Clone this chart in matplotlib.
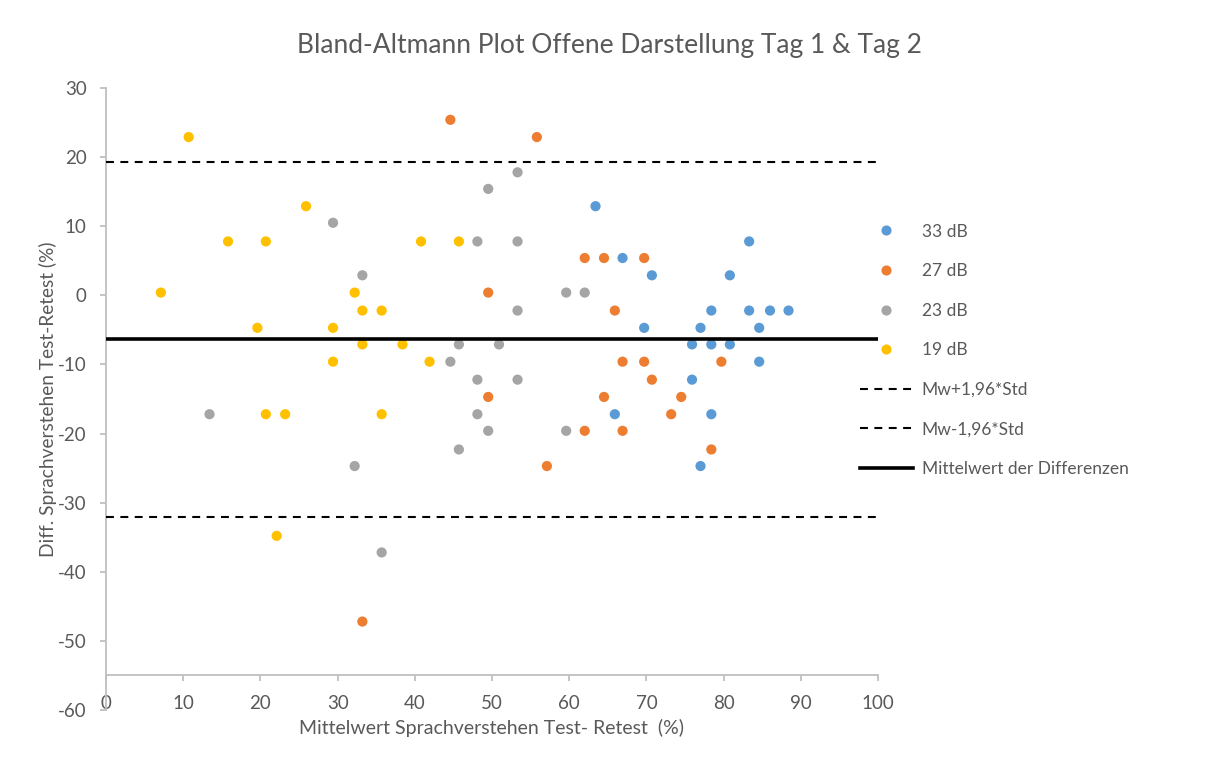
import numpy as np
import matplotlib
matplotlib.use('Agg')
import matplotlib.pyplot as plt
from matplotlib.lines import Line2D

plt.rcParams['font.family'] = ['Lato', 'DejaVu Sans']
plt.rcParams['axes.unicode_minus'] = False

TEXT_COLOR = '#595959'
AXIS_COLOR = '#BFBFBF'

# 33 dB
x_33 = [63.4, 83.3, 66.9, 70.7, 80.8, 78.4, 83.3, 86.0, 88.4, 69.7,
        77.0, 84.6, 75.9, 78.4, 80.8, 84.6, 75.9, 65.9, 78.4, 77.0]
y_33 = [12.9, 7.8, 5.4, 2.9, 2.9, -2.2, -2.2, -2.2, -2.2, -4.7,
        -4.7, -4.7, -7.1, -7.1, -7.1, -9.6, -12.2, -17.2, -17.2, -24.7]

# 27 dB
x_27 = [44.6, 55.8, 62.0, 64.5, 69.7, 49.5, 65.9, 66.9, 69.7, 79.7,
        70.7, 49.5, 64.5, 74.5, 73.2, 62.0, 66.9, 78.4, 57.1, 33.2]
y_27 = [25.4, 22.9, 5.4, 5.4, 5.4, 0.4, -2.2, -9.6, -9.6, -9.6,
        -12.2, -14.7, -14.7, -14.7, -17.2, -19.6, -19.6, -22.3, -24.7, -47.2]

# 23 dB
x_23 = [53.3, 49.5, 29.4, 48.1, 53.3, 33.2, 59.6, 62.0, 53.3, 45.7, 50.9,
        44.6, 48.1, 53.3, 13.4, 48.1, 49.5, 59.6, 45.7, 32.2, 35.7]
y_23 = [17.8, 15.4, 10.5, 7.8, 7.8, 2.9, 0.4, 0.4, -2.2, -7.1, -7.1,
        -9.6, -12.2, -12.2, -17.2, -17.2, -19.6, -19.6, -22.3, -24.7, -37.2]

# 19 dB
x_19 = [10.7, 25.9, 15.8, 20.7, 40.8, 45.7, 7.1, 32.2, 33.2, 35.7,
        19.6, 29.4, 33.2, 38.4, 29.4, 41.9, 20.7, 23.2, 35.7, 22.1]
y_19 = [22.9, 12.9, 7.8, 7.8, 7.8, 7.8, 0.4, 0.4, -2.2, -2.2,
        -4.7, -4.7, -7.1, -7.1, -9.6, -9.6, -17.2, -17.2, -17.2, -34.8]

series_labels = ['33 dB', '27 dB', '23 dB', '19 dB']
series_colors = ['#5B9BD5', '#ED7D31', '#A5A5A5', '#FFC000']

mean_diff = -6.35
upper_loa = 19.33
lower_loa = -32.03
line_x = [0, 100]

fig = plt.figure(figsize=(12.12, 7.58), dpi=100)
ax = fig.add_axes([0.0875, 0.0633, 0.637, 0.8206])

for xs, ys, c in zip([x_33, x_27, x_23, x_19], [y_33, y_27, y_23, y_19], series_colors):
    ax.scatter(xs, ys, s=54, color=c, edgecolors='none', zorder=2)

dash = (0, (3.8, 3.1))
ax.plot(line_x, [upper_loa, upper_loa], color='black', lw=1.5, ls=dash, zorder=3)
ax.plot(line_x, [lower_loa, lower_loa], color='black', lw=1.5, ls=dash, zorder=3)
ax.plot(line_x, [mean_diff, mean_diff], color='black', lw=2.6, zorder=3)

ax.set_xlim(0, 100)
ax.set_ylim(-60, 30)
ax.set_xticks(np.arange(0, 101, 10))
ax.set_yticks(np.arange(-60, 31, 10))

ax.spines['top'].set_visible(False)
ax.spines['right'].set_visible(False)
ax.spines['bottom'].set_position(('data', -55))
for sp in ['left', 'bottom']:
    ax.spines[sp].set_color(AXIS_COLOR)
    ax.spines[sp].set_linewidth(1.3)
ax.tick_params(axis='both', colors=AXIS_COLOR, labelcolor=TEXT_COLOR,
               labelsize=13.5, length=4, width=1.3, pad=10)

# axis titles and chart title
fig.text(48 / 1212, 1 - 399 / 758, 'Diff. Sprachverstehen Test-Retest (%)', rotation=90,
         ha='center', va='center', fontsize=13.8, color=TEXT_COLOR)
fig.text(491.5 / 1212, 1 - 728 / 758, 'Mittelwert Sprachverstehen Test- Retest  (%)',
         ha='center', va='center', fontsize=14, color=TEXT_COLOR)
fig.text(609.5 / 1212, 1 - 45 / 758, 'Bland-Altmann Plot Offene Darstellung Tag 1 & Tag 2',
         ha='center', va='center', fontsize=19, color=TEXT_COLOR)

handles = [Line2D([], [], ls='none', marker='o', markersize=7.3,
                  markerfacecolor=c, markeredgecolor='none') for c in series_colors]
handles += [Line2D([], [], color='black', lw=1.5, ls=dash),
            Line2D([], [], color='black', lw=1.5, ls=dash),
            Line2D([], [], color='black', lw=2.6)]
labels = series_labels + ['Mw+1,96*Std', 'Mw-1,96*Std', 'Mittelwert der Differenzen']
leg = fig.legend(handles, labels, loc='upper left', bbox_to_anchor=(860 / 1212, 1 - 223.5 / 758),
                 frameon=False, fontsize=12.5, handlelength=3.05, handletextpad=0.5,
                 labelspacing=1.36, borderpad=0, borderaxespad=0)
for t in leg.get_texts():
    t.set_color(TEXT_COLOR)

fig.savefig('out.png', dpi=100)
